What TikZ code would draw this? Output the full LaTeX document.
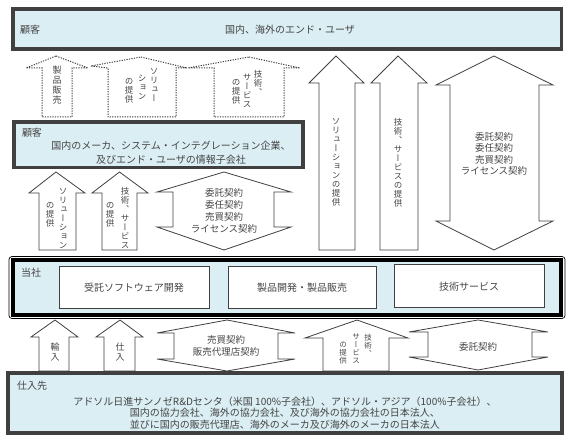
\documentclass[tikz,border=0pt]{standalone}
\usepackage{fontspec}
\setmainfont{Noto Sans CJK JP}
\newfontfamily\vjp[RawFeature=+vert]{Noto Sans CJK JP}
\definecolor{lb}{HTML}{DAEEF3}
\definecolor{txt}{HTML}{454545}
\definecolor{edge}{HTML}{404040}
\tikzset{
  box/.style={draw=edge, line width=3.2pt, fill=lb},
  ibox/.style={draw=edge, line width=0.9pt, fill=white},
  arr/.style={draw=edge, line width=0.8pt, fill=white, line join=miter},
  darr/.style={draw=edge, line width=1pt, dash pattern=on 1.2pt off 1.3pt},
  lbl/.style={text=txt, inner sep=0pt, font=\fontsize{10}{12}\selectfont},
  ctr/.style={text=txt, inner sep=0pt, align=center},
  vt/.style={text=txt, inner sep=0pt, align=center, font=\vjp\fontsize{8.5}{9}\selectfont},
  vts/.style={text=txt, inner sep=0pt, align=center, font=\vjp\fontsize{7.5}{8}\selectfont}
}
\begin{document}
\begin{tikzpicture}[x=1pt,y=-1pt]
\useasboundingbox (0,0) rectangle (571,441);
\fill[white] (0,0) rectangle (571,441);

% ---------- dotted arrows (top row)
\draw[darr] (56,56) -- (88,68) -- (72,68) -- (72,117) -- (42,117) -- (42,68) -- (26,68) -- cycle;
\draw[darr] (141,57) -- (187,68) -- (176,68) -- (176,117) -- (108,117) -- (108,68) -- (91,66) -- cycle;
\draw[darr] (249,57) -- (300,68) -- (284,68) -- (284,117) -- (214,117) -- (214,68) -- (188,68) -- cycle;
\node[vt, font=\vjp\fontsize{9}{10}\selectfont] (d1) at (57,85) {製\\品\\販\\売};
\node[vt] (d2a) at (154,85) {ソ\\リ\\ュ\\ー};
\node[vt] (d2b) at (142,87) {シ\\ョ\\ン};
\node[vt] (d2c) at (129,91) {の\\提\\供};
\node[vt] (d3a) at (258,83) {技\\術\\、};
\node[vt] (d3b) at (247,91) {サ\\ー\\ビ\\ス};
\node[vt] (d3c) at (236,92) {の\\提\\供};

% ---------- big right arrows
\draw[arr] (336,56) -- (364,83) -- (355,83) -- (355,250) -- (319,250) -- (319,83) -- (309,83) -- cycle;
\draw[arr] (398,56) -- (427,83) -- (418,83) -- (418,250) -- (380,250) -- (380,83) -- (371,83) -- cycle;
\draw[arr] (494,56) -- (553,85) -- (539,85) -- (539,221) -- (553,221) -- (494,250) -- (436,221) -- (450,221) -- (450,85) -- (436,85) -- cycle;
\node[vt] (ra) at (336,162) {ソ\\リ\\ュ\\ー\\シ\\ョ\\ン\\の\\提\\供};
\node[vt] (rb) at (398,163) {技\\術\\、\\サ\\ー\\ビ\\ス\\の\\提\\供};
\node[ctr, font=\fontsize{9.5}{11.5}\selectfont] (rc) at (494,154) {委託契約\\委任契約\\売買契約\\ライセンス契約};

% ---------- middle arrows
\draw[arr] (56,172) -- (85,193) -- (76,193) -- (76,250) -- (39,250) -- (39,193) -- (29,193) -- cycle;
\draw[arr] (119.5,172) -- (148,193) -- (137,193) -- (137,250) -- (102,250) -- (102,193) -- (92,193) -- cycle;
\draw[arr] (224,172) -- (291,192) -- (274,192) -- (274,227) -- (291,227) -- (224,250) -- (157,227) -- (173,227) -- (173,192) -- (157,192) -- cycle;
\node[vt] (m1a) at (63,218) {ソ\\リ\\ュ\\ー\\シ\\ョ\\ン};
\node[vt] (m1b) at (50,215) {の\\提\\供};
\node[vt] (m2a) at (125,218) {技\\術\\、\\サ\\ー\\ビ\\ス};
\node[vt] (m2b) at (110,215) {の\\提\\供};
\node[ctr, font=\fontsize{9.5}{12}\selectfont] (mc) at (224,211) {委託契約\\委任契約\\売買契約\\ライセンス契約};

% ---------- bottom arrows
\draw[arr] (55,320) -- (78,337) -- (69,337) -- (69,371) -- (39,371) -- (39,337) -- (31,337) -- cycle;
\draw[arr] (120,320) -- (143,337) -- (135,337) -- (135,371) -- (104,371) -- (104,337) -- (96,337) -- cycle;
\draw[arr] (227,320) -- (295,333) -- (278,333) -- (278,359) -- (295,359) -- (227,371) -- (157,359) -- (174,359) -- (174,333) -- (157,333) -- cycle;
\draw[arr] (357,320) -- (408,338) -- (389,338) -- (389,371) -- (323,371) -- (323,338) -- (305,338) -- cycle;
\draw[arr] (478,320) -- (548,332) -- (532,332) -- (532,357) -- (548,357) -- (478,370) -- (409,357) -- (428,357) -- (428,332) -- (409,332) -- cycle;
\node[vt, font=\vjp\fontsize{9}{10}\selectfont] (b1) at (55,352) {輸\\入};
\node[vt, font=\vjp\fontsize{9}{10}\selectfont] (b2) at (120,352) {仕\\入};
\node[ctr, font=\fontsize{9.5}{12}\selectfont] (b3) at (226,346) {売買契約\\販売代理店契約};
\node[vts] (b4a) at (368,345) {技\\術\\、};
\node[vts] (b4b) at (356,349) {サ\\ー\\ビ\\ス};
\node[vts] (b4c) at (343,353) {の\\提\\供};
\node[ctr, font=\fontsize{9.5}{12}\selectfont] (b5) at (478,347) {委託契約};

% ---------- boxes
\draw[box] (13,9) rectangle (561.5,49);
\node[lbl] (c1lab) at (30,29.5) {顧客};
\node[lbl] (c1txt) at (290,29.5) {国内、海外のエンド・ユーザ};

\draw[box, line width=3.5pt] (14,122) rectangle (303,167.5);
\node[lbl] (c2lab) at (32,133) {顧客};
\node[ctr, font=\fontsize{10}{14}\selectfont] (c2txt) at (171,152.7) {国内のメーカ、システム・インテグレーション企業、\\及びエンド・ユーザの情報子会社};

\draw[line width=0.7pt, rounded corners=3pt] (9,256.5) rectangle (565,318.5);
\draw[line width=4pt, fill=lb] (13,260) rectangle (561,315);
\node[lbl] (tlab) at (31,273) {当社};
\draw[ibox] (59,266) rectangle (209,308);
\draw[ibox] (228,266.5) rectangle (376,308);
\draw[ibox] (394,264.5) rectangle (544,307.5);
\node[lbl] (t1) at (134,288) {受託ソフトウェア開発};
\node[lbl] (t2) at (302,288) {製品開発・製品販売};
\node[lbl] (t3) at (469,287) {技術サービス};

\draw[box, line width=3.5pt] (8,373) rectangle (562,433);
\node[lbl] (slab) at (32,386) {仕入先};
\node[ctr, font=\fontsize{10}{11.2}\selectfont] (stxt) at (285,413) {アドソル日進サンノゼR\&Dセンタ（米国 100\%子会社）、アドソル・アジア（100\%子会社）、\\国内の協力会社、海外の協力会社、及び海外の協力会社の日本法人、\\並びに国内の販売代理店、海外のメーカ及び海外のメーカの日本法人};
\end{tikzpicture}
\end{document}
